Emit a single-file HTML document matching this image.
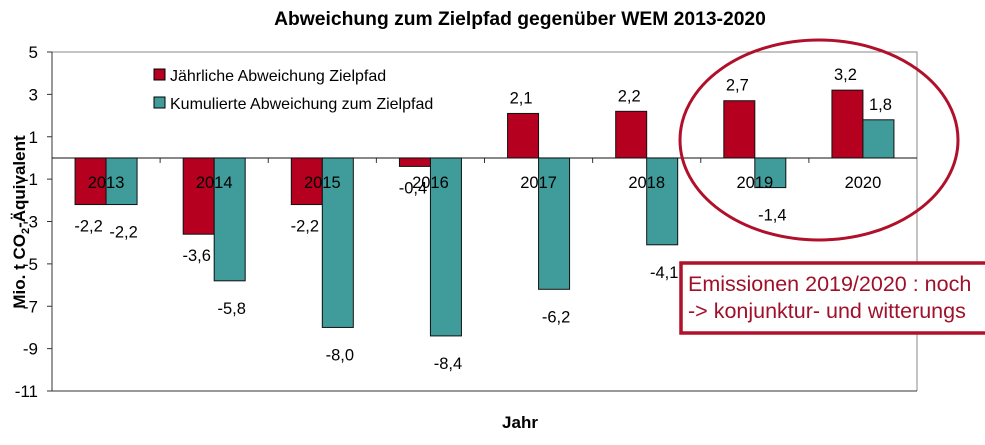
<!DOCTYPE html>
<html><head><meta charset="utf-8"><style>
body{margin:0;background:#fff;width:985px;height:440px;overflow:hidden;font-family:"Liberation Sans",Arial,sans-serif}
</style></head><body>
<svg id="chart" width="985" height="440" xmlns="http://www.w3.org/2000/svg" font-family="Liberation Sans, Arial, sans-serif">
<text x="520" y="25" text-anchor="middle" font-size="19.3" font-weight="bold">Abweichung zum Zielpfad gegenüber WEM 2013-2020</text>
<g id="plot"></g>
<text x="520" y="428" text-anchor="middle" font-size="17" font-weight="bold">Jahr</text>
<text transform="translate(25,222) rotate(-90)" text-anchor="middle" font-size="17" font-weight="bold">Mio. t CO<tspan font-size="11" dy="4">2</tspan><tspan dy="-4">-Äquivalent</tspan></text>
<g>
<rect x="154" y="69" width="11" height="11" fill="#b5001f" stroke="#000"/>
<text x="170" y="81" font-size="16">Jährliche Abweichung Zielpfad</text>
<rect x="154" y="97" width="11" height="11" fill="#3f9c9a" stroke="#000"/>
<text x="170" y="109" font-size="16">Kumulierte Abweichung zum Zielpfad</text>
</g>
<ellipse cx="819" cy="140" rx="139" ry="100" fill="none" stroke="#b0102a" stroke-width="3"/>
<g>
<rect x="681" y="263" width="320" height="70" fill="#fff" stroke="#b0102a" stroke-width="3.5"/>
<text x="688" y="291" font-size="21.5" fill="#a0102a">Emissionen 2019/2020 : noch</text>
<text x="688" y="318" font-size="21.5" fill="#a0102a">-&gt; konjunktur- und witterungs</text>
</g>
</svg>
<script>
const categories=["2013","2014","2015","2016","2017","2018","2019","2020"];
const annual=[-2.2,-3.6,-2.2,-0.4,2.1,2.2,2.7,3.2];
const cumulative=[-2.2,-5.8,-8.0,-8.4,-6.2,-4.1,-1.4,1.8];
const yTicks=[5,3,1,-1,-3,-5,-7,-9,-11];
const L=52,R=917,T=52,B=391,yMax=5,yMin=-11;
const NS="http://www.w3.org/2000/svg";
const g=document.getElementById('plot');
const y=v=>T+(yMax-v)/(yMax-yMin)*(B-T);
const gw=(R-L)/categories.length;
const xc=i=>L+gw*(i+0.5);
const bw=31;
function mk(t,a){const e=document.createElementNS(NS,t);for(const k in a)e.setAttribute(k,a[k]);g.appendChild(e);return e;}
const fmt=v=>v.toFixed(1).replace('.',',');
let f=mk('path',{d:`M${L},${T}H${R}V${B}`,fill:'none',stroke:'#888'});


let ya=mk('line',{x1:L,y1:T,x2:L,y2:B,stroke:'#333'});


let xb=mk('line',{x1:L,y1:B,x2:R,y2:B,stroke:'#333'});


yTicks.forEach(v=>{
 let tk=mk('line',{x1:L-5,y1:y(v),x2:L,y2:y(v),stroke:'#333'});
 
 
 let t=mk('text',{x:L-14,y:y(v)+6,'text-anchor':'end','font-size':17});
 t.textContent=v;
 
 
});
categories.forEach((c,i)=>{
 const a=annual[i],k=cumulative[i];
 let r1=mk('rect',{x:xc(i)-bw,y:Math.min(y(a),y(0)),width:bw,height:Math.abs(y(a)-y(0)),fill:'#b5001f',stroke:'#111'});
 
 
 let r2=mk('rect',{x:xc(i),y:Math.min(y(k),y(0)),width:bw,height:Math.abs(y(k)-y(0)),fill:'#3f9c9a',stroke:'#111'});
 
 
 let l1=mk('text',{x:xc(i)-bw/2-2,y:a<0?y(a)+27:y(a)-10,'text-anchor':'middle','font-size':16.5});
 l1.textContent=fmt(a);
 
 
 let l2=mk('text',{x:xc(i)+bw/2+2,y:k<0?y(k)+33:y(k)-10,'text-anchor':'middle','font-size':16.5});
 l2.textContent=fmt(k);
 
 
 let cl=mk('text',{x:xc(i),y:y(0)+30,'text-anchor':'middle','font-size':16.5});
 cl.textContent=c;
 
 
 if(i>0){let tk=mk('line',{x1:L+gw*i,y1:y(0),x2:L+gw*i,y2:y(0)+5,stroke:'#333'});
 
 }
});
let za=mk('line',{x1:L,y1:y(0),x2:R,y2:y(0),stroke:'#111'});


</script>
</body></html>
